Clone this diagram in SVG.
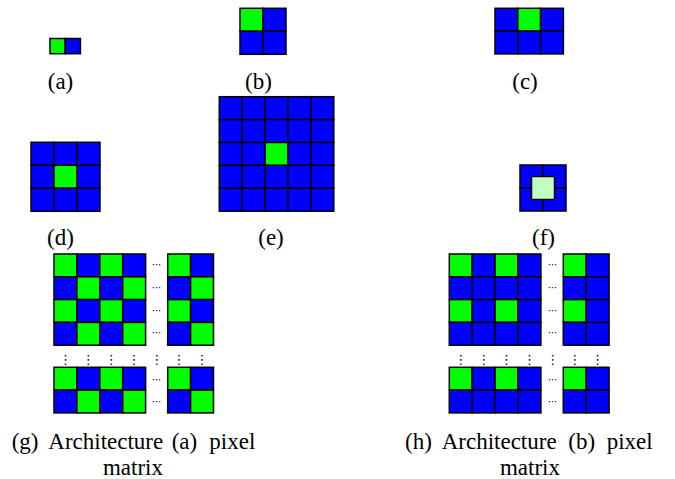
<svg xmlns="http://www.w3.org/2000/svg" width="675" height="479" viewBox="0 0 675 479">
<style>
.b{fill:#0000ff;stroke:#000;stroke-width:1.5}
.g{fill:#00ff00;stroke:#000;stroke-width:1.5}
.l{fill:#c0ffc0;stroke:#000;stroke-width:1.5}
.t{font-family:"Liberation Serif","Times New Roman",serif;font-size:23px;fill:#000}
.d{font-family:"DejaVu Sans",sans-serif;font-size:10px;fill:#000;text-anchor:middle}
.v{font-family:"DejaVu Sans",sans-serif;font-size:13px;fill:#000;text-anchor:middle}
</style>
<rect width="675" height="479" fill="#fff"/>

<g id="fig-a">
<rect class="g" x="50" y="38.5" width="15.2" height="15.2"/>
<rect class="b" x="65.2" y="38.5" width="15.2" height="15.2"/>
<text class="t" x="60.5" y="89" text-anchor="middle">(a)</text>
</g>

<g id="fig-b">
<rect class="g" x="240" y="8.3" width="23" height="23"/>
<rect class="b" x="263" y="8.3" width="23" height="23"/>
<rect class="b" x="240" y="31.3" width="23" height="23"/>
<rect class="b" x="263" y="31.3" width="23" height="23"/>
<text class="t" x="258.5" y="89" text-anchor="middle">(b)</text>
</g>

<g id="fig-c">
<rect class="b" x="495" y="8.3" width="22.8" height="22.8"/>
<rect class="g" x="517.8" y="8.3" width="22.8" height="22.8"/>
<rect class="b" x="540.6" y="8.3" width="22.8" height="22.8"/>
<rect class="b" x="495" y="31.1" width="22.8" height="22.8"/>
<rect class="b" x="517.8" y="31.1" width="22.8" height="22.8"/>
<rect class="b" x="540.6" y="31.1" width="22.8" height="22.8"/>
<text class="t" x="525" y="89" text-anchor="middle">(c)</text>
</g>

<g id="fig-d">
<rect class="b" x="31" y="142.3" width="23" height="23"/>
<rect class="b" x="54" y="142.3" width="23" height="23"/>
<rect class="b" x="77" y="142.3" width="23" height="23"/>
<rect class="b" x="31" y="165.3" width="23" height="23"/>
<rect class="g" x="54" y="165.3" width="23" height="23"/>
<rect class="b" x="77" y="165.3" width="23" height="23"/>
<rect class="b" x="31" y="188.3" width="23" height="23"/>
<rect class="b" x="54" y="188.3" width="23" height="23"/>
<rect class="b" x="77" y="188.3" width="23" height="23"/>
<text class="t" x="60.5" y="245" text-anchor="middle">(d)</text>
</g>

<g id="fig-e">
<rect class="b" x="219.3" y="96.7" width="22.9" height="22.9"/>
<rect class="b" x="242.2" y="96.7" width="22.9" height="22.9"/>
<rect class="b" x="265.1" y="96.7" width="22.9" height="22.9"/>
<rect class="b" x="288" y="96.7" width="22.9" height="22.9"/>
<rect class="b" x="310.9" y="96.7" width="22.9" height="22.9"/>
<rect class="b" x="219.3" y="119.6" width="22.9" height="22.9"/>
<rect class="b" x="242.2" y="119.6" width="22.9" height="22.9"/>
<rect class="b" x="265.1" y="119.6" width="22.9" height="22.9"/>
<rect class="b" x="288" y="119.6" width="22.9" height="22.9"/>
<rect class="b" x="310.9" y="119.6" width="22.9" height="22.9"/>
<rect class="b" x="219.3" y="142.5" width="22.9" height="22.9"/>
<rect class="b" x="242.2" y="142.5" width="22.9" height="22.9"/>
<rect class="g" x="265.1" y="142.5" width="22.9" height="22.9"/>
<rect class="b" x="288" y="142.5" width="22.9" height="22.9"/>
<rect class="b" x="310.9" y="142.5" width="22.9" height="22.9"/>
<rect class="b" x="219.3" y="165.4" width="22.9" height="22.9"/>
<rect class="b" x="242.2" y="165.4" width="22.9" height="22.9"/>
<rect class="b" x="265.1" y="165.4" width="22.9" height="22.9"/>
<rect class="b" x="288" y="165.4" width="22.9" height="22.9"/>
<rect class="b" x="310.9" y="165.4" width="22.9" height="22.9"/>
<rect class="b" x="219.3" y="188.3" width="22.9" height="22.9"/>
<rect class="b" x="242.2" y="188.3" width="22.9" height="22.9"/>
<rect class="b" x="265.1" y="188.3" width="22.9" height="22.9"/>
<rect class="b" x="288" y="188.3" width="22.9" height="22.9"/>
<rect class="b" x="310.9" y="188.3" width="22.9" height="22.9"/>
<text class="t" x="271" y="245" text-anchor="middle">(e)</text>
</g>

<g id="fig-f">
<rect class="b" x="520" y="165" width="23" height="23"/>
<rect class="b" x="543" y="165" width="23" height="23"/>
<rect class="b" x="520" y="188" width="23" height="23"/>
<rect class="b" x="543" y="188" width="23" height="23"/>
<rect class="l" x="531.5" y="176.5" width="23" height="23"/>
<text class="t" x="543.5" y="245" text-anchor="middle">(f)</text>
</g>

<g id="fig-g">
<rect class="g" x="54" y="254" width="22.9" height="22.8"/>
<rect class="b" x="76.9" y="254" width="22.9" height="22.8"/>
<rect class="g" x="99.8" y="254" width="22.9" height="22.8"/>
<rect class="b" x="122.7" y="254" width="22.9" height="22.8"/>
<rect class="b" x="54" y="276.8" width="22.9" height="22.8"/>
<rect class="g" x="76.9" y="276.8" width="22.9" height="22.8"/>
<rect class="b" x="99.8" y="276.8" width="22.9" height="22.8"/>
<rect class="g" x="122.7" y="276.8" width="22.9" height="22.8"/>
<rect class="g" x="54" y="299.6" width="22.9" height="22.8"/>
<rect class="b" x="76.9" y="299.6" width="22.9" height="22.8"/>
<rect class="g" x="99.8" y="299.6" width="22.9" height="22.8"/>
<rect class="b" x="122.7" y="299.6" width="22.9" height="22.8"/>
<rect class="b" x="54" y="322.4" width="22.9" height="22.8"/>
<rect class="g" x="76.9" y="322.4" width="22.9" height="22.8"/>
<rect class="b" x="99.8" y="322.4" width="22.9" height="22.8"/>
<rect class="g" x="122.7" y="322.4" width="22.9" height="22.8"/>
<rect class="g" x="167.7" y="254" width="22.9" height="22.8"/>
<rect class="b" x="190.6" y="254" width="22.9" height="22.8"/>
<rect class="b" x="167.7" y="276.8" width="22.9" height="22.8"/>
<rect class="g" x="190.6" y="276.8" width="22.9" height="22.8"/>
<rect class="g" x="167.7" y="299.6" width="22.9" height="22.8"/>
<rect class="b" x="190.6" y="299.6" width="22.9" height="22.8"/>
<rect class="b" x="167.7" y="322.4" width="22.9" height="22.8"/>
<rect class="g" x="190.6" y="322.4" width="22.9" height="22.8"/>
<rect class="g" x="54" y="367.3" width="22.9" height="22.8"/>
<rect class="b" x="76.9" y="367.3" width="22.9" height="22.8"/>
<rect class="g" x="99.8" y="367.3" width="22.9" height="22.8"/>
<rect class="b" x="122.7" y="367.3" width="22.9" height="22.8"/>
<rect class="b" x="54" y="390.1" width="22.9" height="22.8"/>
<rect class="g" x="76.9" y="390.1" width="22.9" height="22.8"/>
<rect class="b" x="99.8" y="390.1" width="22.9" height="22.8"/>
<rect class="g" x="122.7" y="390.1" width="22.9" height="22.8"/>
<rect class="g" x="167.7" y="367.3" width="22.9" height="22.8"/>
<rect class="b" x="190.6" y="367.3" width="22.9" height="22.8"/>
<rect class="b" x="167.7" y="390.1" width="22.9" height="22.8"/>
<rect class="g" x="190.6" y="390.1" width="22.9" height="22.8"/>
<text class="d" x="156.7" y="268">⋯</text>
<text class="d" x="156.7" y="291">⋯</text>
<text class="d" x="156.7" y="314">⋯</text>
<text class="d" x="156.7" y="336">⋯</text>
<text class="d" x="156.7" y="383">⋯</text>
<text class="d" x="156.7" y="405">⋯</text>
<text class="v" x="65.5" y="364">⋮</text>
<text class="v" x="88.3" y="364">⋮</text>
<text class="v" x="111.2" y="364">⋮</text>
<text class="v" x="134.1" y="364">⋮</text>
<text class="v" x="156.7" y="364">⋮</text>
<text class="v" x="179.1" y="364">⋮</text>
<text class="v" x="202" y="364">⋮</text>
<text class="t" y="449"><tspan x="11.7">(g)</tspan><tspan x="48.3">Architecture</tspan><tspan x="171.7">(a)</tspan><tspan x="209.3">pixel</tspan></text>
<text class="t" x="133" y="475" text-anchor="middle">matrix</text>
</g>

<g id="fig-h">
<rect class="g" x="449.3" y="254" width="22.9" height="22.8"/>
<rect class="b" x="472.2" y="254" width="22.9" height="22.8"/>
<rect class="g" x="495.1" y="254" width="22.9" height="22.8"/>
<rect class="b" x="518" y="254" width="22.9" height="22.8"/>
<rect class="b" x="449.3" y="276.8" width="22.9" height="22.8"/>
<rect class="b" x="472.2" y="276.8" width="22.9" height="22.8"/>
<rect class="b" x="495.1" y="276.8" width="22.9" height="22.8"/>
<rect class="b" x="518" y="276.8" width="22.9" height="22.8"/>
<rect class="g" x="449.3" y="299.6" width="22.9" height="22.8"/>
<rect class="b" x="472.2" y="299.6" width="22.9" height="22.8"/>
<rect class="g" x="495.1" y="299.6" width="22.9" height="22.8"/>
<rect class="b" x="518" y="299.6" width="22.9" height="22.8"/>
<rect class="b" x="449.3" y="322.4" width="22.9" height="22.8"/>
<rect class="b" x="472.2" y="322.4" width="22.9" height="22.8"/>
<rect class="b" x="495.1" y="322.4" width="22.9" height="22.8"/>
<rect class="b" x="518" y="322.4" width="22.9" height="22.8"/>
<rect class="g" x="563.3" y="254" width="22.9" height="22.8"/>
<rect class="b" x="586.2" y="254" width="22.9" height="22.8"/>
<rect class="b" x="563.3" y="276.8" width="22.9" height="22.8"/>
<rect class="b" x="586.2" y="276.8" width="22.9" height="22.8"/>
<rect class="g" x="563.3" y="299.6" width="22.9" height="22.8"/>
<rect class="b" x="586.2" y="299.6" width="22.9" height="22.8"/>
<rect class="b" x="563.3" y="322.4" width="22.9" height="22.8"/>
<rect class="b" x="586.2" y="322.4" width="22.9" height="22.8"/>
<rect class="g" x="449.3" y="367.3" width="22.9" height="22.8"/>
<rect class="b" x="472.2" y="367.3" width="22.9" height="22.8"/>
<rect class="g" x="495.1" y="367.3" width="22.9" height="22.8"/>
<rect class="b" x="518" y="367.3" width="22.9" height="22.8"/>
<rect class="b" x="449.3" y="390.1" width="22.9" height="22.8"/>
<rect class="b" x="472.2" y="390.1" width="22.9" height="22.8"/>
<rect class="b" x="495.1" y="390.1" width="22.9" height="22.8"/>
<rect class="b" x="518" y="390.1" width="22.9" height="22.8"/>
<rect class="g" x="563.3" y="367.3" width="22.9" height="22.8"/>
<rect class="b" x="586.2" y="367.3" width="22.9" height="22.8"/>
<rect class="b" x="563.3" y="390.1" width="22.9" height="22.8"/>
<rect class="b" x="586.2" y="390.1" width="22.9" height="22.8"/>
<text class="d" x="552.7" y="268">⋯</text>
<text class="d" x="552.7" y="291">⋯</text>
<text class="d" x="552.7" y="314">⋯</text>
<text class="d" x="552.7" y="336">⋯</text>
<text class="d" x="552.7" y="383">⋯</text>
<text class="d" x="552.7" y="405">⋯</text>
<text class="v" x="460.8" y="364">⋮</text>
<text class="v" x="483.7" y="364">⋮</text>
<text class="v" x="506.5" y="364">⋮</text>
<text class="v" x="529.4" y="364">⋮</text>
<text class="v" x="552.7" y="364">⋮</text>
<text class="v" x="574.7" y="364">⋮</text>
<text class="v" x="597.6" y="364">⋮</text>
<text class="t" y="449"><tspan x="405">(h)</tspan><tspan x="441.7">Architecture</tspan><tspan x="568.3">(b)</tspan><tspan x="606.7">pixel</tspan></text>
<text class="t" x="530" y="475" text-anchor="middle">matrix</text>
</g>
</svg>
